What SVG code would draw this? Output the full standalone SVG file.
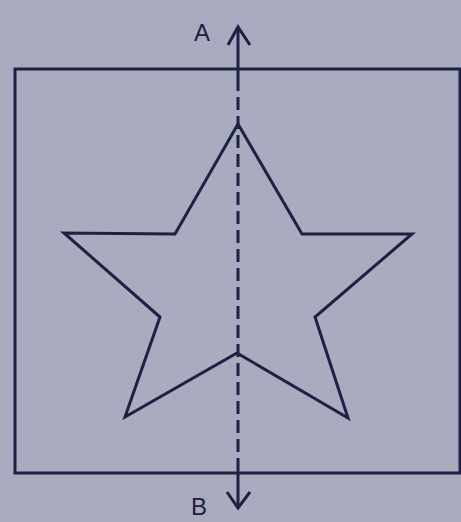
<svg xmlns="http://www.w3.org/2000/svg" width="461" height="522" viewBox="0 0 461 522">
<style>
.ln{fill:none;stroke:#1e2045;stroke-width:3;stroke-linejoin:miter}
.lbl{font-family:"Liberation Sans",Arial,sans-serif;font-size:24px;fill:#1e2045}
</style>
<rect x="0" y="0" width="461" height="522" fill="#a9acbf"/>
<g id="frame"><rect class="ln" x="15" y="69" width="445" height="404"/></g>
<g id="star"><polygon class="ln" points="238,124 302,234 412,234 315,317 348,418 237,353 125,417 160,317 64,233 175,234"/></g>
<g id="connectors">
<line class="ln" x1="238" y1="27" x2="238" y2="78"/>
<line class="ln" x1="238" y1="78" x2="238" y2="462" stroke-dasharray="13,6"/>
<line class="ln" x1="238" y1="462" x2="238" y2="508"/>
<polyline class="ln" points="228,45 238,27 250,45"/>
<polyline class="ln" points="227,492 238,508 250,492"/>
</g>
<g id="labels">
<text class="lbl" x="194" y="41">A</text>
<text class="lbl" x="191" y="515">B</text>
</g>
</svg>
